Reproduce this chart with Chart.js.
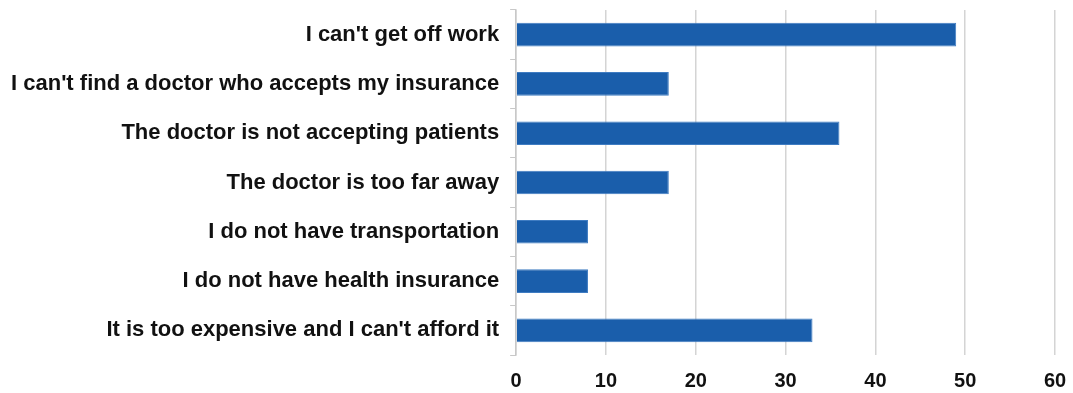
<!DOCTYPE html>
<html>
<head>
<meta charset="utf-8">
<script src="https://cdn.jsdelivr.net/npm/chart.js@4/dist/chart.umd.min.js"></script>
<style>
	html, body { margin: 0; padding: 0; background: #fff; }
	#wrap { width: 1073px; height: 393px; }
</style>
</head>
<body>
<div id="wrap"><canvas id="barChart"></canvas></div>
<script>
// reasons for not seeing a doctor
var reasons = [
	"I can't get off work",
	"I can't find a doctor who accepts my insurance",
	"The doctor is not accepting patients",
	"The doctor is too far away",
	"I do not have transportation",
	"I do not have health insurance",
	"It is too expensive and I can't afford it"
];
var counts = [49, 17, 36, 17, 8, 8, 33];
var xTicks = [0, 10, 20, 30, 40, 50, 60];

document.addEventListener("DOMContentLoaded", function () {
	var ctx = document.getElementById("barChart").getContext("2d");
	var barChart = new Chart(ctx, {
		type: "bar",
		data: {
			labels: reasons,
			datasets: [
				{
					label: "Responses",
					data: counts,
					backgroundColor: "#1a5eab",
					borderColor: "#3f7cc2",
					borderWidth: 1,
					barPercentage: 0.96,
					categoryPercentage: 0.5,
				},
			],
		},
		options: {
			indexAxis: "y",
			responsive: true,
			maintainAspectRatio: false,
			animation: false,
			layout: {
				padding: { top: 10, right: 18, left: 0, bottom: -14 },
			},
			plugins: {
				legend: { display: false },
				tooltip: { enabled: false },
			},
			scales: {
				x: {
					min: 0,
					max: 60,
					afterBuildTicks: function (axis) {
						axis.ticks = xTicks.map(function (v) { return { value: v }; });
					},
					afterFit: function (scale) {
						scale.paddingLeft = 0;
						scale.paddingRight = 0;
					},
					grid: {
						color: "#d4d4d4",
						lineWidth: 1.5,
						drawTicks: false,
					},
					border: { display: false },
					ticks: {
						color: "#111",
						padding: 14,
						font: { family: "Liberation Sans", size: 20, weight: "bold" },
					},
				},
				y: {
					afterFit: function (scale) {
						// category labels sit inside their bands, no extra room needed
						scale.paddingTop = 0;
						scale.paddingBottom = 0;
					},
					grid: {
						offset: true,
						drawOnChartArea: false,
						drawTicks: true,
						tickLength: 6,
						color: "#c8c8c8",
					},
					border: { display: true, color: "#c8c8c8", width: 1.5 },
					ticks: {
						color: "#111",
						padding: 11,
						font: { family: "Liberation Sans", size: 22, weight: "bold" },
					},
				},
			},
		},
	});
});
</script>
</body>
</html>
